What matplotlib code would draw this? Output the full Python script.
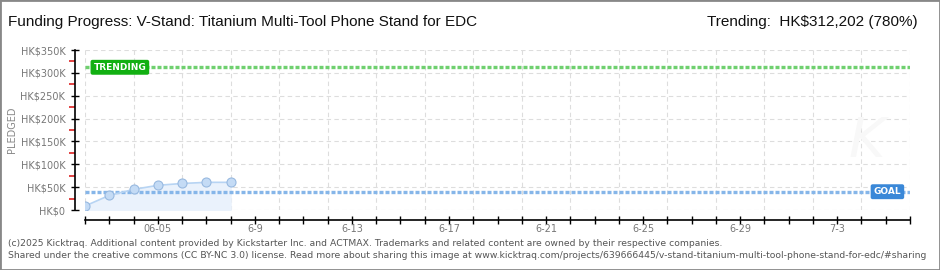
import matplotlib
matplotlib.use("Agg")
import matplotlib.pyplot as plt
from matplotlib.patches import Rectangle
from matplotlib.ticker import FixedLocator

# data (days since 06-02)
days = [0, 1, 2, 3, 4, 5, 6]
pledged = [8700, 32000, 45000, 54000, 58000, 60500, 60500]
goal = 40000
trending = 312202
n_days = 34
tick_labels = {3: "06-05", 7: "6-9", 11: "6-13", 15: "6-17", 19: "6-21",
               23: "6-25", 27: "6-29", 31: "7-3"}
y_ticks = [0, 50000, 100000, 150000, 200000, 250000, 300000, 350000]

W, H = 940, 270
fig = plt.figure(figsize=(W / 100, H / 100), dpi=100)
fig.patch.set_facecolor("white")
ax = fig.add_axes([85 / W, 60 / H, 825 / W, 160 / H])

ax.set_xlim(0, n_days)
ax.set_ylim(0, 350000)

# grid
for d in range(0, n_days + 1, 2):
    ax.axvline(d, color="#dddddd", lw=0.8, ls=(0, (4, 3)), zorder=0)
for v in y_ticks:
    ax.axhline(v, color="#dddddd", lw=0.8, ls=(0, (4, 3)), zorder=0)

# goal / trending lines
ax.axhline(trending, color="#6fd06f", lw=2.4, ls=(0, (1.2, 0.6)), zorder=2)
ax.axhline(goal, color="#86b6e9", lw=2.4, ls=(0, (1.2, 0.6)), zorder=2)

# series
ax.fill_between(days, pledged, 0, color="#eaf2fc", zorder=1)
ax.plot(days, pledged, color="#b7d4f3", lw=1.2, zorder=3)
ax.plot(days, pledged, ls="none", marker="o", ms=6.5, mfc="#c4dbf5",
        mec="#98b9e0", mew=0.8, zorder=4)

ax.text(0.35, trending, "TRENDING", color="white", fontsize=6.5, va="center",
        ha="left", fontweight="bold", zorder=5,
        bbox=dict(boxstyle="round,pad=0.25,rounding_size=0.15",
                  fc="#12b012", ec="#12b012"))
ax.text(32.5, goal, "GOAL", color="white", fontsize=6.5, va="center",
        ha="left", fontweight="bold", zorder=5,
        bbox=dict(boxstyle="round,pad=0.25,rounding_size=0.15",
                  fc="#3a88d8", ec="#3a88d8"))

# watermark
ax.text(32.2, 150000, "K", fontsize=40, color="#f8f8f8", style="italic",
        ha="center", va="center", zorder=0)

# axes styling
for s in ["top", "right"]:
    ax.spines[s].set_visible(False)
ax.spines["left"].set_position(("outward", 7.2))
ax.spines["bottom"].set_position(("outward", 7.2))
ax.spines["left"].set_linewidth(1.2)
ax.spines["bottom"].set_linewidth(1.2)
ax.patch.set_alpha(0)

ax.yaxis.set_major_locator(FixedLocator(y_ticks))
ax.yaxis.set_minor_locator(FixedLocator([v + 25000 for v in y_ticks[:-1]]))
ax.set_yticklabels(["HK\\$0"] + ["HK\\$%dK" % (v // 1000) for v in y_ticks[1:]])
ax.tick_params(axis="y", which="major", direction="inout", length=6,
               width=1, labelsize=7, labelcolor="#777777", pad=4)
ax.tick_params(axis="y", which="minor", direction="out", length=4,
               width=1.2, color="#dd2222")

ax.set_xticks(range(0, n_days + 1))
ax.set_xticklabels([tick_labels.get(d, "") for d in range(0, n_days + 1)])
ax.tick_params(axis="x", direction="inout", length=6, width=1,
               labelsize=7, labelcolor="#777777", pad=0)

fig.text(12 / W, 1 - 130 / H, "PLEDGED", rotation=90, fontsize=7,
         color="#888888", ha="center", va="center")

# titles
fig.text(8 / W, 1 - 22 / H, "Funding Progress: V-Stand: Titanium Multi-Tool Phone Stand for EDC",
         fontsize=11, family="Liberation Sans", ha="left", va="center", color="#111111")
fig.text(918 / W, 1 - 22 / H, "Trending:  HK\\$312,202 (780%)",
         fontsize=11, family="Liberation Sans", ha="right", va="center", color="#111111")

# footer
fig.text(8 / W, 1 - 243 / H,
         "(c)2025 Kicktraq. Additional content provided by Kickstarter Inc. and ACTMAX. "
         "Trademarks and related content are owned by their respective companies.",
         fontsize=6.7, color="#555555", ha="left", va="center")
fig.text(8 / W, 1 - 256 / H,
         "Shared under the creative commons (CC BY-NC 3.0) license. Read more about sharing this image at "
         "www.kicktraq.com/projects/639666445/v-stand-titanium-multi-tool-phone-stand-for-edc/#sharing",
         fontsize=6.7, color="#555555", ha="left", va="center")

fig.patches.append(Rectangle((0, 0), 1, 1, transform=fig.transFigure, fill=False,
                             ec="#888888", lw=2))

fig.savefig("out.png", dpi=100)
